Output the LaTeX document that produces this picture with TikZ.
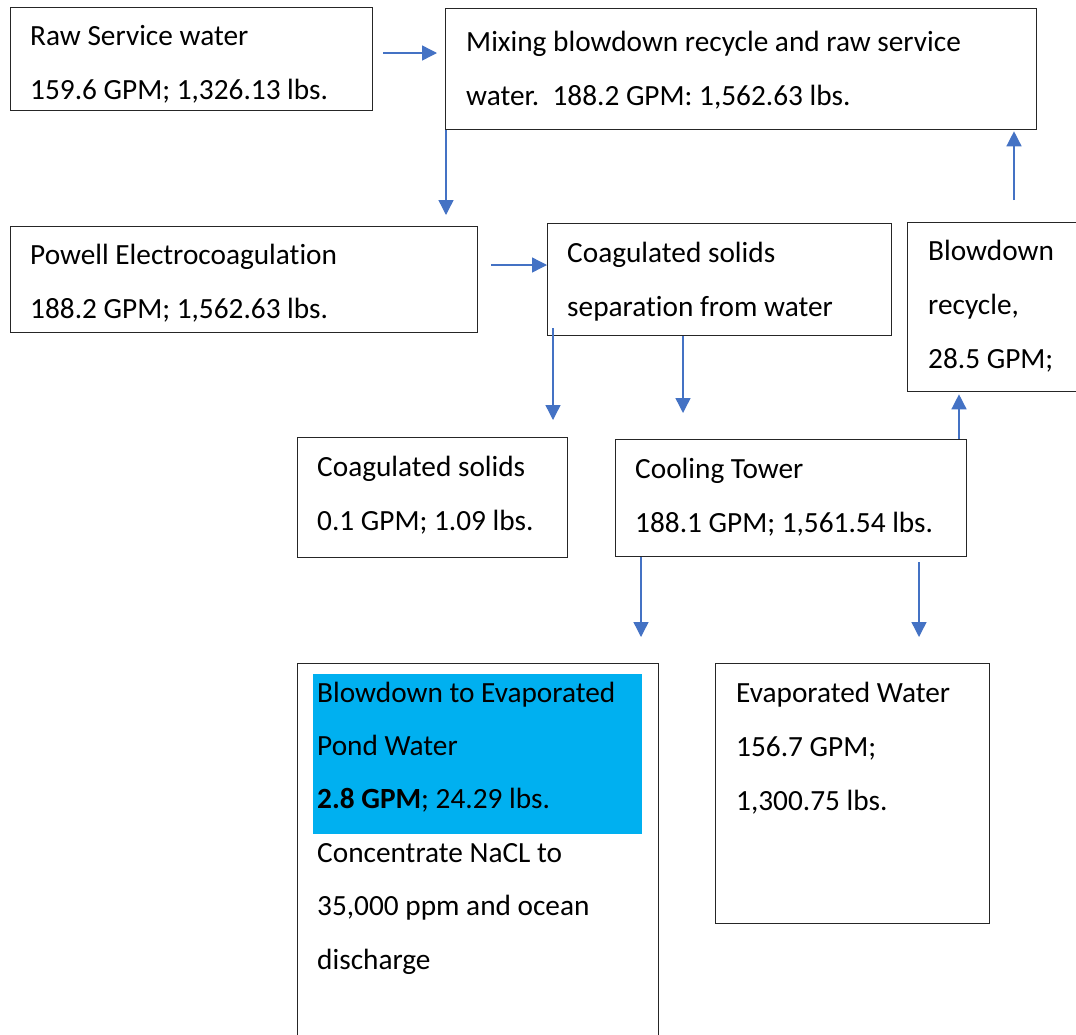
\documentclass[tikz,border=0pt]{standalone}
\usepackage{fontspec}
\setmainfont{Carlito}[Ligatures=NoCommon]
\usetikzlibrary{arrows.meta}
\definecolor{arrblue}{HTML}{4472C4}
\definecolor{hlblue}{HTML}{00B0F0}
\begin{document}
\begin{tikzpicture}[x=1pt,y=-1pt,
  box/.style={draw=black!85,line width=1.3pt,rectangle,inner sep=0pt,anchor=north west},
  txt/.style={anchor=north west,inner sep=0pt,align=left,font=\fontsize{29.3}{54}\selectfont},
  arr/.style={draw=arrblue,line width=1.4pt,-{Triangle[width=15pt,length=15pt]}}]
\useasboundingbox (0,0) rectangle (1076,1034);
\fill[white] (0,0) rectangle (1076,1034);
% highlight
\fill[hlblue] (313,674) rectangle (642,834);
% boxes
\node[box,minimum width=362pt,minimum height=103pt] (raw) at (10,7) {};
\node[box,minimum width=591pt,minimum height=121pt] (mix) at (445,8) {};
\node[box,minimum width=467pt,minimum height=106pt] (pow) at (10,226) {};
\node[box,minimum width=344pt,minimum height=112pt] (sep) at (547,223) {};
\node[box,minimum width=180pt,minimum height=169pt] (rec) at (907,222) {};
\node[box,minimum width=270pt,minimum height=120pt] (sol) at (297,437) {};
\node[box,minimum width=351pt,minimum height=117pt] (cool) at (615,439) {};
\node[box,minimum width=361pt,minimum height=390pt] (pond) at (297,663) {};
\node[box,minimum width=274pt,minimum height=260pt] (evap) at (715,663) {};
% texts
\node[txt] (rawt) at (30,7.2) {\strut Raw Service water\\159.6 GPM; 1,326.13 lbs.};
\node[txt] (mixt) at (466,13.2) {\strut Mixing blowdown recycle and raw service\\water.\ \ 188.2 GPM: 1,562.63 lbs.};
\node[txt] (powt) at (30,226.2) {\strut Powell Electrocoagulation\\188.2 GPM; 1,562.63 lbs.};
\node[txt] (sept) at (567,224.2) {\strut Coagulated solids\\separation from water};
\node[txt] (rect) at (928,222.2) {\strut Blowdown\\recycle,\\28.5 GPM;};
\node[txt] (solt) at (317,438.2) {\strut Coagulated solids\\0.1 GPM; 1.09 lbs.};
\node[txt] (coolt) at (635,440.2) {\strut Cooling Tower\\188.1 GPM; 1,561.54 lbs.};
\node[txt,font=\fontsize{29.3}{53.4}\selectfont] (pondt) at (317,664.6) {\strut Blowdown to Evaporated\\Pond Water\\\textbf{2.8 GPM}; 24.29 lbs.\\Concentrate NaCL to\\35,000 ppm and ocean\\discharge};
\node[txt] (evapt) at (736,664.2) {\strut Evaporated Water\\156.7 GPM;\\1,300.75 lbs.};
% arrows
\draw[arr,shorten <=10pt,shorten >=8pt] (raw.east |- 0,53) -- (mix.west |- 0,53);
\draw[arr,shorten >=11pt] (mix.south -| 446,0) -- (pow.north -| 446,0);
\draw[arr,shorten <=13pt] (pow.east |- 0,265) -- (sep.west |- 0,265);
\draw[arr,shorten <=-8pt,shorten >=17pt] (sep.south -| 553,0) -- (sol.north -| 553,0);
\draw[arr,shorten >=26pt] (sep.south -| 683,0) -- (cool.north -| 683,0);
\draw[arr,shorten <=22pt,shorten >=1pt] (rec.north -| 1014,0) -- (mix.south -| 1014,0);
\draw[arr,shorten >=2pt] (cool.north -| 959,0) -- (rec.south -| 959,0);
\draw[arr,shorten >=26pt] (cool.south -| 641,0) -- (pond.north -| 641,0);
\draw[arr,shorten <=5pt,shorten >=26pt] (cool.south -| 919,0) -- (evap.north -| 919,0);
\end{tikzpicture}
\end{document}
